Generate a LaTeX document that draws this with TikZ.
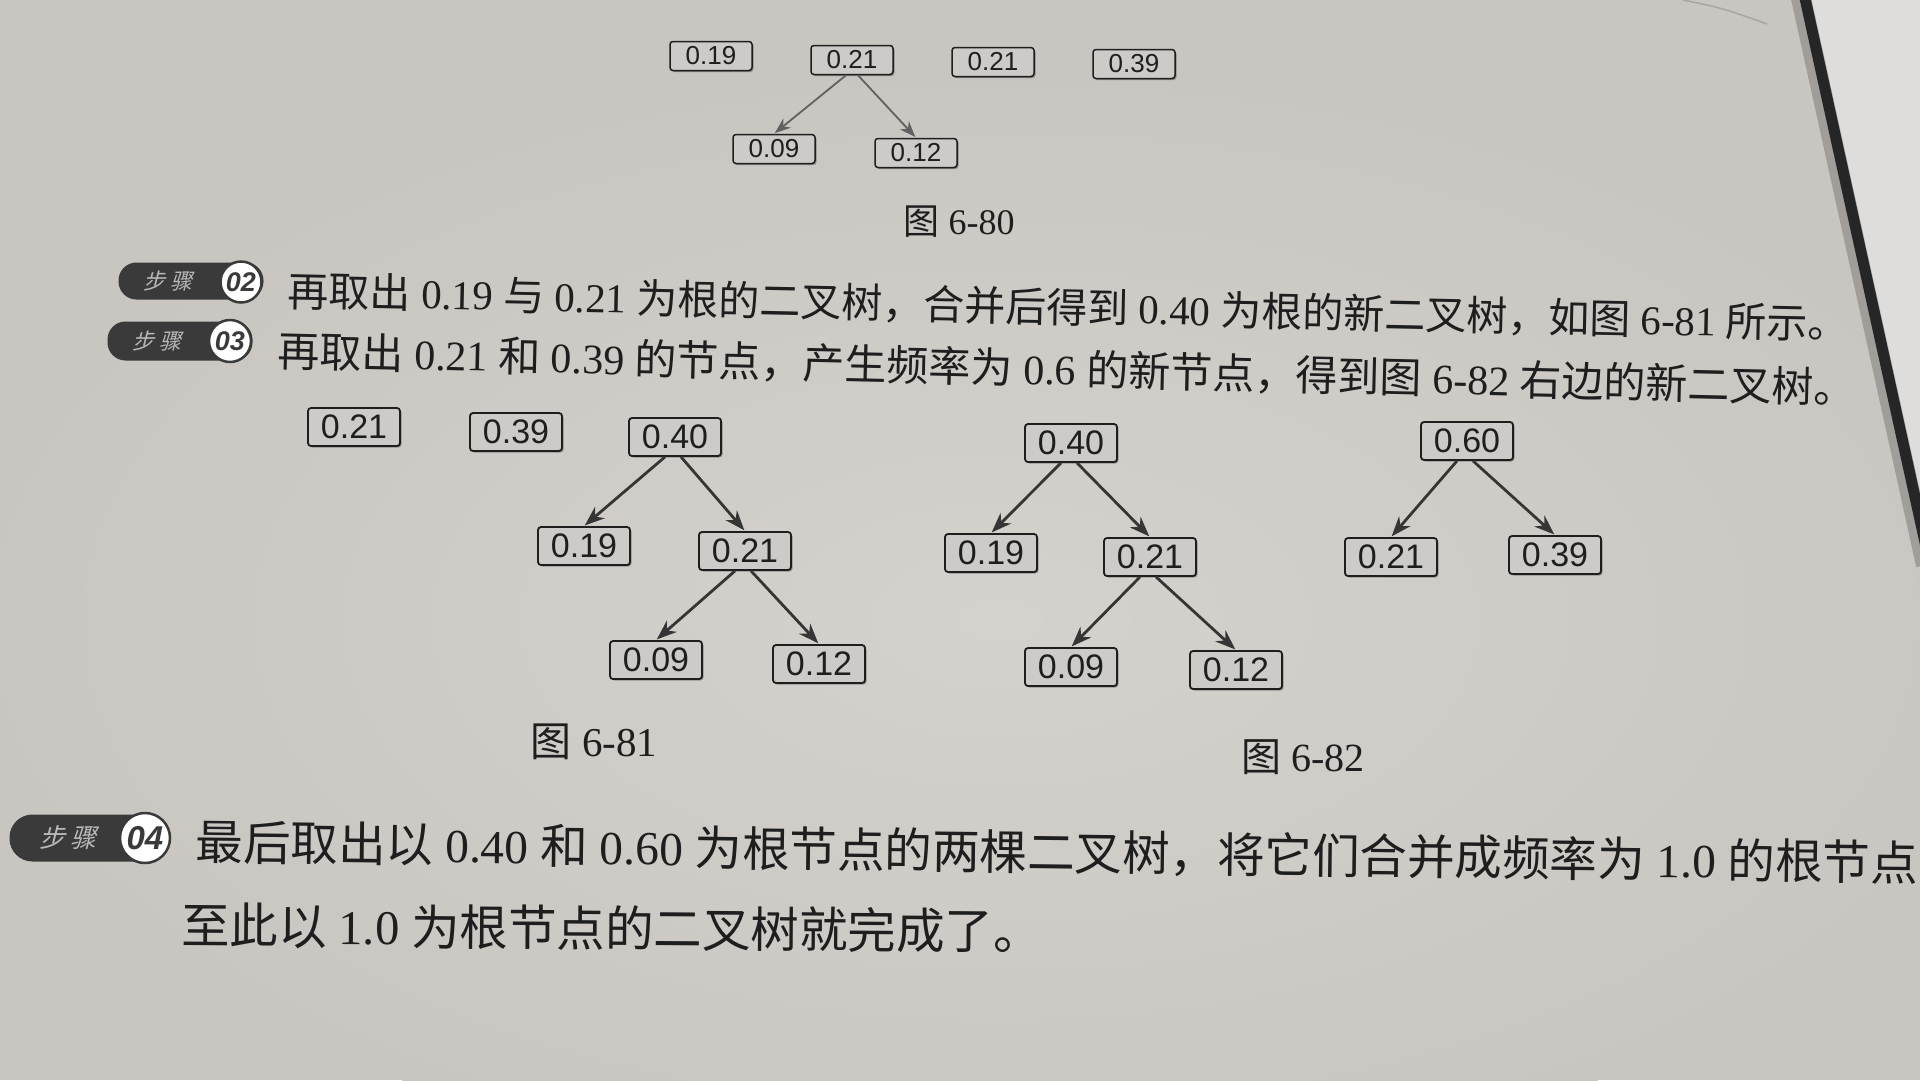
\documentclass[tikz,border=0pt]{standalone}
\usepackage{fontspec}
\setmainfont{Liberation Serif}
\newfontfamily\cjk{Noto Sans CJK SC}
\newfontfamily\cjkslant{Noto Sans CJK SC}[FakeSlant=0.25]
\newfontfamily\nodefont{Liberation Sans}
\usetikzlibrary{arrows.meta,shadows}
\newcommand\zh[1]{{\cjk #1}}
\newcommand\fsz[1]{\fontsize{#1}{#1}\selectfont}
\definecolor{pagecol}{HTML}{C9C6C2}
\definecolor{pagelight}{HTML}{D5D2CE}
\definecolor{outside}{HTML}{DEDDDB}
\definecolor{inkcol}{HTML}{1E1E1E}
\definecolor{boxfill}{HTML}{CDCBC7}
\definecolor{badgecol}{HTML}{3A3A3A}
\definecolor{edgecol}{HTML}{262626}
\begin{document}
\begin{tikzpicture}[x=1pt,y=-1pt,
  tnode/.style={draw=inkcol, line width=1.8pt, fill=boxfill, rounded corners=3pt,
    minimum width=92pt, minimum height=38pt, inner sep=0pt, text=inkcol,
    font=\nodefont\fsz{34},
    drop shadow={shadow xshift=1.5pt, shadow yshift=-1.5pt, fill=black, opacity=0.3}},
  snode/.style={tnode, minimum width=82pt, minimum height=29pt, line width=1.5pt,
    font=\nodefont\fsz{26}},
  treeedge/.style={-{Stealth[length=20pt,width=15pt]}, line width=2.8pt, draw=inkcol!90, shorten >=1pt},
  smalledge/.style={-{Stealth[length=16pt,width=12pt]}, line width=1.8pt, draw=inkcol!70, shorten >=1pt},
  bodytext/.style={anchor=west, inner sep=0pt, text=inkcol},
  captext/.style={inner sep=0pt, text=inkcol},
  badge/.style={fill=badgecol, rounded corners=18pt, inner sep=0pt},
  badgelabel/.style={inner sep=0pt, text=gray!55, font=\cjkslant\fsz{22}},
  badgenum/.style={circle, fill=white, draw=badgecol, line width=2.5pt, inner sep=0pt,
    text=badgecol, font=\nodefont\bfseries\itshape\fsz{27}}
]
\useasboundingbox (0,0) rectangle (1920,1080);
% page
\fill[pagecol] (0,0) rectangle (1920,1080);
\shade[inner color=pagelight, outer color=pagecol] (1000,620) ellipse (1050 and 560);
\fill[outside] (1807,0) -- (1920,0) -- (1920,523) -- cycle;
\draw[line width=20pt, edgecol, opacity=0.25] (1797,-20) -- (1926,565);
\draw[line width=11pt, edgecol] (1801,-20) -- (1930,565);
\draw[gray!70, line width=1.5pt] (1683,0) .. controls (1722,8) .. (1767,24);

% Figure 6-80
\node[snode] (a19) at (711,56) {0.19};
\node[snode] (a21) at (852,60) {0.21};
\node[snode] (a21b) at (993,62) {0.21};
\node[snode] (a39) at (1134,64) {0.39};
\node[snode] (a09) at (774,149) {0.09};
\node[snode] (a12) at (916,153) {0.12};
\draw[smalledge] ([xshift=-6pt]a21.south) -- (a09.north);
\draw[smalledge] ([xshift=6pt]a21.south) -- (a12.north);
\node[captext, font=\fsz{36}] (c80) at (959,222) {\zh{图} 6-80};

% Step 02
\node[badge, minimum width=145pt, minimum height=37pt] (b02) at (191,281) {};
\node[badgelabel] (l02) at (168,281) {步 骤};
\node[badgenum, minimum size=41pt] (n02) at (241,282) {02};
\node[bodytext, rotate=-1.2, font=\fsz{41}] (t02) at (288,291)
  {\zh{再取出} 0.19 \zh{与} 0.21 \zh{为根的二叉树，合并后得到} 0.40 \zh{为根的新二叉树，如图} 6-81 \zh{所示。}};

% Step 03
\node[badge, minimum width=145pt, minimum height=39pt] (b03) at (180,341) {};
\node[badgelabel] (l03) at (157,341) {步 骤};
\node[badgenum, minimum size=42pt] (n03) at (230,341) {03};
\node[bodytext, rotate=-1.35, font=\fsz{42}] (t03) at (278,351)
  {\zh{再取出} 0.21 \zh{和} 0.39 \zh{的节点，产生频率为} 0.6 \zh{的新节点，得到图} 6-82 \zh{右边的新二叉树。}};

% Figure 6-81
\node[tnode] (b21) at (354,427) {0.21};
\node[tnode] (b39) at (516,432) {0.39};
\node[tnode] (b40) at (675,437) {0.40};
\node[tnode] (b19) at (584,546) {0.19};
\node[tnode] (b21c) at (745,551) {0.21};
\node[tnode] (b09) at (656,660) {0.09};
\node[tnode] (b12) at (819,664) {0.12};
\draw[treeedge] ([xshift=-10pt]b40.south) -- (b19.north);
\draw[treeedge] ([xshift=6pt]b40.south) -- (b21c.north);
\draw[treeedge] ([xshift=-10pt]b21c.south) -- (b09.north);
\draw[treeedge] ([xshift=6pt]b21c.south) -- (b12.north);
\node[captext, font=\fsz{41}] (c81) at (594,742) {\zh{图} 6-81};

% Figure 6-82
\node[tnode] (d40) at (1071,443) {0.40};
\node[tnode] (d19) at (991,553) {0.19};
\node[tnode] (d21) at (1150,557) {0.21};
\node[tnode] (d09) at (1071,667) {0.09};
\node[tnode] (d12) at (1236,670) {0.12};
\draw[treeedge] ([xshift=-10pt]d40.south) -- (d19.north);
\draw[treeedge] ([xshift=6pt]d40.south) -- (d21.north);
\draw[treeedge] ([xshift=-10pt]d21.south) -- (d09.north);
\draw[treeedge] ([xshift=6pt]d21.south) -- (d12.north);
\node[tnode] (e60) at (1467,441) {0.60};
\node[tnode] (e21) at (1391,557) {0.21};
\node[tnode] (e39) at (1555,555) {0.39};
\draw[treeedge] ([xshift=-10pt]e60.south) -- (e21.north);
\draw[treeedge] ([xshift=6pt]e60.south) -- (e39.north);
\node[captext, font=\fsz{40}] (c82) at (1303,757) {\zh{图} 6-82};

% Step 04
\node[badge, minimum width=161pt, minimum height=47pt, rounded corners=23pt] (b04) at (90,838) {};
\node[badgelabel, font=\cjkslant\fsz{26}] (l04) at (68,838) {步 骤};
\node[badgenum, minimum size=50pt, font=\nodefont\bfseries\itshape\fsz{33}] (n04) at (145,838) {04};
\node[bodytext, rotate=-0.7, font=\fsz{47.5}] (t04) at (196,842)
  {\zh{最后取出以} 0.40 \zh{和} 0.60 \zh{为根节点的两棵二叉树，将它们合并成频率为} 1.0 \zh{的根节点}};
\node[bodytext, rotate=-0.4, font=\fsz{48.5}] (t05) at (181,925)
  {\zh{至此以} 1.0 \zh{为根节点的二叉树就完成了。}};
\end{tikzpicture}
\end{document}
